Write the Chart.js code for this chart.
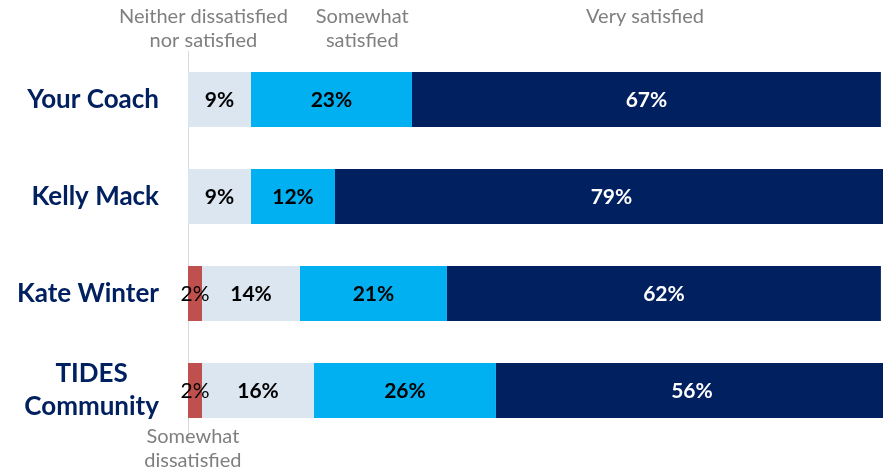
<!DOCTYPE html>
<html>
<head>
<meta charset="utf-8">
<script src="https://cdn.jsdelivr.net/npm/chart.js@4/dist/chart.umd.min.js"></script>
<style>
  html, body { margin: 0; padding: 0; background: #fff; }
  #wrap { width: 883px; height: 470px; position: relative; }
</style>
</head>
<body>
<div id="wrap"><canvas id="chart"></canvas></div>
<script>
var categories = ['Your Coach', 'Kelly Mack', 'Kate Winter', ['TIDES', 'Community']];
var seriesNames = ['Somewhat dissatisfied', 'Neither dissatisfied nor satisfied', 'Somewhat satisfied', 'Very satisfied'];
var somewhatDissatisfied = [0, 0, 2, 2];
var neither = [9, 9, 14, 16];
var somewhatSatisfied = [23, 12, 21, 26];
var verySatisfied = [67, 79, 62, 56];

var colors = ['#c0504d', '#dce6f1', '#00b0f0', '#002060'];
var labelColors = ['#000000', '#000000', '#000000', '#ffffff'];
var labelWeights = ['normal', 'bold', 'bold', 'bold'];
var FONT = 'Lato, "Open Sans", sans-serif';

// percentages inside the bars
var valueLabels = {
  id: 'valueLabels',
  afterDatasetsDraw(chart) {
    let ctx = chart.ctx;
    ctx.save();
    ctx.textAlign = 'center';
    ctx.textBaseline = 'middle';
    chart.data.datasets.forEach((ds, i) => {
      let meta = chart.getDatasetMeta(i);
      meta.data.forEach((bar, j) => {
        let v = ds.data[j];
        if (!v) return;
        let left = bar.base, right = bar.x;
        ctx.font = labelWeights[i] + ' 21px ' + FONT;
        ctx.fillStyle = labelColors[i];
        ctx.fillText(v + '%', (left + right) / 2, bar.y + 1);
      });
    });
    ctx.restore();
  }
};

// category names: block right aligned, lines centered inside the block
var categoryLabels = {
  id: 'categoryLabels',
  afterDraw(chart) {
    let ctx = chart.ctx;
    let y = chart.scales.y;
    ctx.save();
    ctx.font = 'bold 26px ' + FONT;
    ctx.fillStyle = '#002060';
    ctx.textAlign = 'center';
    ctx.textBaseline = 'middle';
    categories.forEach((c, j) => {
      let lines = Array.isArray(c) ? c : [c];
      let w = Math.max(...lines.map(l => ctx.measureText(l).width));
      let cx = 159 - w / 2;
      let cy = y.getPixelForValue(j);
      let lh = 33;
      lines.forEach((l, k) => {
        ctx.fillText(l, cx, cy + (k - (lines.length - 1) / 2) * lh);
      });
    });
    ctx.restore();
  }
};

// series names written above / below the bars, the way the slide had them
var seriesTitles = {
  id: 'seriesTitles',
  afterDraw(chart) {
    let ctx = chart.ctx;
    let x = chart.scales.x;
    let spots = [
      { s: 0, at: 0.7, y: 437, lines: ['Somewhat', 'dissatisfied'] },
      { s: 1, at: 2.2, y: 17, lines: ['Neither dissatisfied', 'nor satisfied'] },
      { s: 2, at: 24.9, y: 17, lines: ['Somewhat', 'satisfied'] },
      { s: 3, at: 65.3, y: 17, lines: ['Very satisfied'] }
    ];
    ctx.save();
    ctx.font = '20px ' + FONT;
    ctx.fillStyle = '#7f7f7f';
    ctx.textAlign = 'center';
    ctx.textBaseline = 'middle';
    spots.forEach(p => {
      p.lines.forEach((l, k) => {
        ctx.fillText(l, x.getPixelForValue(p.at), p.y + k * 24);
      });
    });
    ctx.restore();
  }
};

var datasets = [somewhatDissatisfied, neither, somewhatSatisfied, verySatisfied].map((d, i) => ({
  label: seriesNames[i],
  data: d,
  backgroundColor: colors[i],
  borderWidth: 0
}));

new Chart(document.getElementById('chart'), {
  type: 'bar',
  data: { labels: categories, datasets: datasets },
  options: {
    indexAxis: 'y',
    responsive: true,
    maintainAspectRatio: false,
    animation: false,
    categoryPercentage: 1,
    barPercentage: 0.567,
    layout: { padding: { top: 51, bottom: 31, left: 0, right: 0 } },
    plugins: { legend: { display: false }, tooltip: { enabled: false } },
    scales: {
      x: {
        stacked: true,
        display: false,
        min: 0,
        max: 99.3
      },
      y: {
        stacked: true,
        grid: { display: false, drawTicks: false },
        border: { display: true, color: '#d9d9d9', width: 1 },
        ticks: { display: false },
        afterFit(scale) { scale.width = 188; }
      }
    }
  },
  plugins: [valueLabels, categoryLabels, seriesTitles]
});
</script>
</body>
</html>
